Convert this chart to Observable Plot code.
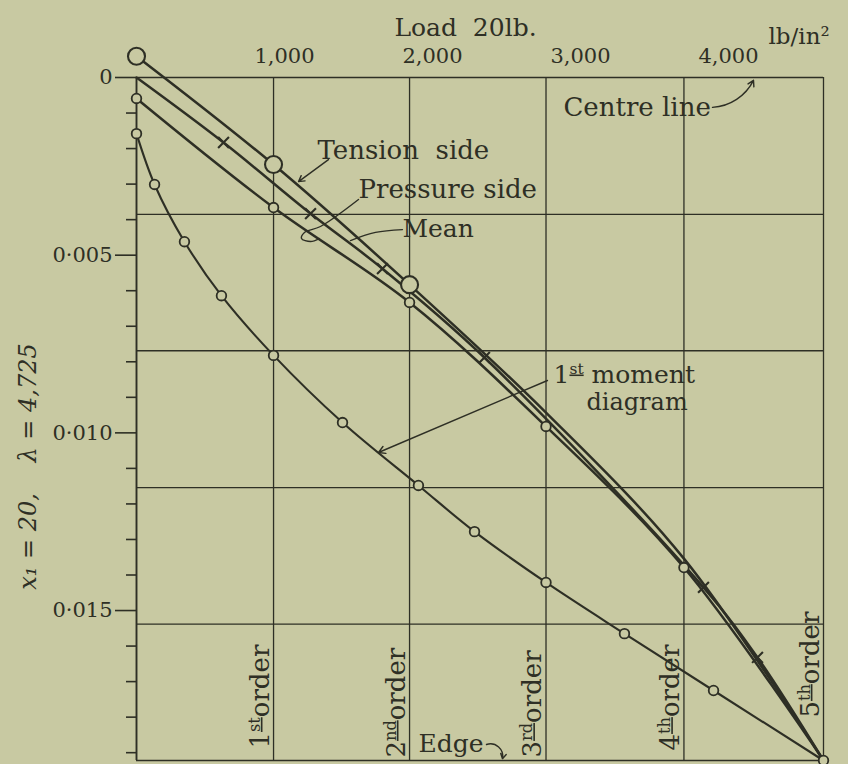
<!DOCTYPE html>
<html><head><meta charset="utf-8">
<script src="https://cdn.jsdelivr.net/npm/d3@7"></script>
<script src="https://cdn.jsdelivr.net/npm/@observablehq/plot@0.6"></script>
<style>
html,body{margin:0;padding:0;background:#c8c9a2;}
#chart{width:848px;height:764px;}
svg{display:block}
</style></head><body><div id="chart"></div>
<script>
const BG = "#c8c9a2", INK = "#2e2f25";
const FONT = "DejaVu Serif";

// ---- data (load in lb/in², deflection) ----
const orderLoads = [926, 1845, 2767, 3699, 4642];
const orderLabels = ["1^{st}order", "2^{nd}order", "3^{rd}order", "4^{th}order", "5^{th}order"];
const gridDefl = [0.00385, 0.00769, 0.01154, 0.01538];
const edgeDefl = 0.01922;
const loadTicks = [1000, 2000, 3000, 4000];
const loadTickLabels = ["1,000", "2,000", "3,000", "4,000"];
const deflMajor = [0, 0.005, 0.010, 0.015];
const deflMajorLabels = ["0", "0·005", "0·010", "0·015"];
const deflMinor = [0.001, 0.002, 0.003, 0.004, 0.006, 0.007, 0.008, 0.009, 0.011, 0.012, 0.013, 0.014, 0.016, 0.017, 0.018, 0.019];

const tensionLoad = [0, 926, 1845, 2767, 3699, 4642];
const tensionDefl = [-0.0006, 0.00245, 0.00583, 0.00943, 0.01354, 0.01922];
const tensionMarked = [0, 1, 2];

const pressureLoad = [0, 926, 1845, 2767, 3699, 4642];
const pressureDefl = [0.00059, 0.00366, 0.00633, 0.00982, 0.01379, 0.01922];
const pressureMarked = [0, 1, 2, 3, 4];

const meanLoad = [0, 588, 1176, 1662, 2351, 3831, 4196, 4642];
const meanDefl = [0, 0.00183, 0.00383, 0.00538, 0.00788, 0.01435, 0.01632, 0.01922];
const meanMarked = [1, 2, 3, 4, 5, 6];

const momentLoad = [0, 122, 324, 574, 926, 1392, 1905, 2284, 2767, 3297, 3899, 4642];
const momentDefl = [0.00158, 0.00301, 0.00462, 0.00614, 0.00782, 0.00971, 0.01148, 0.01278, 0.01421, 0.01565, 0.01725, 0.01922];

const idx = a => d3.range(a.length);
const txt = {fill: INK, fontFamily: FONT, stroke: null};

const svg = Plot.plot({
  width: 848, height: 764,
  marginLeft: 136, marginRight: 25, marginTop: 77, marginBottom: 4,
  style: {background: BG, color: INK, fontFamily: FONT, overflow: "visible"},
  x: {domain: [0, 4642], axis: null},
  y: {domain: [0, edgeDefl], reverse: true, axis: null},
  marks: [
    // grid & frame
    Plot.ruleX(orderLoads, {stroke: INK, strokeWidth: 1.3}),
    Plot.ruleY(gridDefl, {stroke: INK, strokeWidth: 1.3}),
    Plot.ruleY([0, edgeDefl], {stroke: INK, strokeWidth: 1.7}),
    Plot.ruleX([0], {stroke: INK, strokeWidth: 1.9}),
    // axes
    Plot.axisY(deflMinor, {anchor: "left", tickSize: 10, tickFormat: () => "", strokeWidth: 1.6}),
    Plot.axisY(deflMajor, {anchor: "left", tickSize: 21, tickPadding: 3, strokeWidth: 1.6,
      tickFormat: d => deflMajorLabels[deflMajor.indexOf(d)], fontSize: 21, fill: INK}),
    Plot.axisX(loadTicks, {anchor: "top", tickSize: 0, tickPadding: 15,
      tickFormat: d => loadTickLabels[loadTicks.indexOf(d)], fontSize: 21, fill: INK}),
    // curves
    Plot.line(idx(momentLoad), {x: i => momentLoad[i], y: i => momentDefl[i], curve: "catmull-rom", stroke: INK, strokeWidth: 2.1}),
    Plot.line(idx(pressureLoad), {x: i => pressureLoad[i], y: i => pressureDefl[i], curve: "catmull-rom", stroke: INK, strokeWidth: 2.5}),
    Plot.line(idx(meanLoad), {x: i => meanLoad[i], y: i => meanDefl[i], curve: "catmull-rom", stroke: INK, strokeWidth: 2.5}),
    Plot.line(idx(tensionLoad), {x: i => tensionLoad[i], y: i => tensionDefl[i], curve: "catmull-rom", stroke: INK, strokeWidth: 2.5}),
    // markers
    Plot.dot(idx(momentLoad), {x: i => momentLoad[i], y: i => momentDefl[i], r: 4.8, fill: BG, stroke: INK, strokeWidth: 1.8}),
    Plot.dot(pressureMarked, {x: i => pressureLoad[i], y: i => pressureDefl[i], r: 4.8, fill: BG, stroke: INK, strokeWidth: 1.8}),
    Plot.dot(tensionMarked, {x: i => tensionLoad[i], y: i => tensionDefl[i], r: 8.5, fill: BG, stroke: INK, strokeWidth: 2.1}),
    Plot.dot(meanMarked, {x: i => meanLoad[i], y: i => meanDefl[i], r: 5, symbol: "times", stroke: INK, strokeWidth: 2.1}),
    // order labels
    Plot.text(idx(orderLoads), {x: i => orderLoads[i], y: i => [0.018883, 0.019136, 0.019136, 0.018939, 0.018011][i],
      dx: -13, text: i => orderLabels[i], rotate: -90, textAnchor: "start", lineAnchor: "middle", fontSize: 26, ...txt}),
    // annotations
    Plot.text(["Load\u00a0\u00a020lb."], {x: 2223, y: -0.00118, textAnchor: "middle", lineAnchor: "bottom", fontSize: 25, ...txt}),
    Plot.text(["lb/in²"], {x: 4270, y: -0.00093, textAnchor: "start", lineAnchor: "bottom", fontSize: 23, ...txt}),
    Plot.text(["Centre line"], {x: 2885, y: 0.00107, textAnchor: "start", lineAnchor: "bottom", fontSize: 26, ...txt}),
    Plot.text(["Tension\u00a0\u00a0side"], {x: 1223, y: 0.00228, textAnchor: "start", lineAnchor: "bottom", fontSize: 26, ...txt}),
    Plot.text(["Pressure side"], {x: 1500, y: 0.003405, textAnchor: "start", lineAnchor: "bottom", fontSize: 26, ...txt}),
    Plot.text(["Mean"], {x: 1797, y: 0.0045, textAnchor: "start", lineAnchor: "bottom", fontSize: 25, ...txt}),
    Plot.text(["1^{st} moment"], {x: 2818, y: 0.008583, textAnchor: "start", lineAnchor: "bottom", fontSize: 25, ...txt}),
    Plot.text(["diagram"], {x: 3040, y: 0.00937, textAnchor: "start", lineAnchor: "bottom", fontSize: 24, ...txt}),
    Plot.text(["Edge"], {x: 1905, y: 0.018967, textAnchor: "start", lineAnchor: "bottom", fontSize: 25, ...txt}),
    Plot.text(["x₁ = 20,\u00a0\u00a0\u00a0\u00a0λ = 4,725"], {x: -730, y: 0.010947, rotate: -90, textAnchor: "middle", lineAnchor: "middle",
      fontSize: 24, fontStyle: "italic", ...txt}),
    // pointers
    Plot.arrow([0], {x1: 3892, y1: 0.00084, x2: 4169, y2: 0.00008, bend: -30, headLength: 7, stroke: INK, strokeWidth: 1.4}),
    Plot.arrow([0], {x1: 1297, y1: 0.00231, x2: 1095, y2: 0.00293, headLength: 7, stroke: INK, strokeWidth: 1.4}),
    Plot.arrow([0], {x1: 2777, y1: 0.008527, x2: 1635, y2: 0.010553, headLength: 8, stroke: INK, strokeWidth: 1.4}),
    Plot.arrow([0], {x1: 2365, y1: 0.01877, x2: 2473, y2: 0.01917, bend: 60, headLength: 6, stroke: INK, strokeWidth: 1.4}),
    Plot.line([[1500, 0.003433], [1243, 0.004193], [1135, 0.004362], [1115, 0.004531], [1176, 0.004615], [1236, 0.004531]],
      {curve: "catmull-rom", stroke: INK, strokeWidth: 1.4}),
    Plot.line([[1797, 0.00428], [1615, 0.00436], [1446, 0.00459]], {curve: "catmull-rom", stroke: INK, strokeWidth: 1.4})
  ]
});

// superscript post-processing: "^{..}" -> raised small tspan
svg.querySelectorAll("text").forEach(t => {
  const s = t.textContent;
  if (!s.includes("^{")) return;
  const parts = s.split(/(\^\{[^}]*\})/).filter(p => p.length);
  while (t.firstChild) t.removeChild(t.firstChild);
  let raised = false;
  parts.forEach(p => {
    const m = p.match(/^\^\{(.*)\}$/);
    const ts = document.createElementNS("http://www.w3.org/2000/svg", "tspan");
    if (m) {
      ts.textContent = m[1];
      ts.setAttribute("font-size", "62%");
      ts.setAttribute("dy", "-9");
      ts.setAttribute("text-decoration", "underline");
      raised = true;
    } else {
      ts.textContent = p;
      if (raised) { ts.setAttribute("dy", "9"); raised = false; }
    }
    t.appendChild(ts);
  });
});

document.getElementById("chart").appendChild(svg);
</script></body></html>
